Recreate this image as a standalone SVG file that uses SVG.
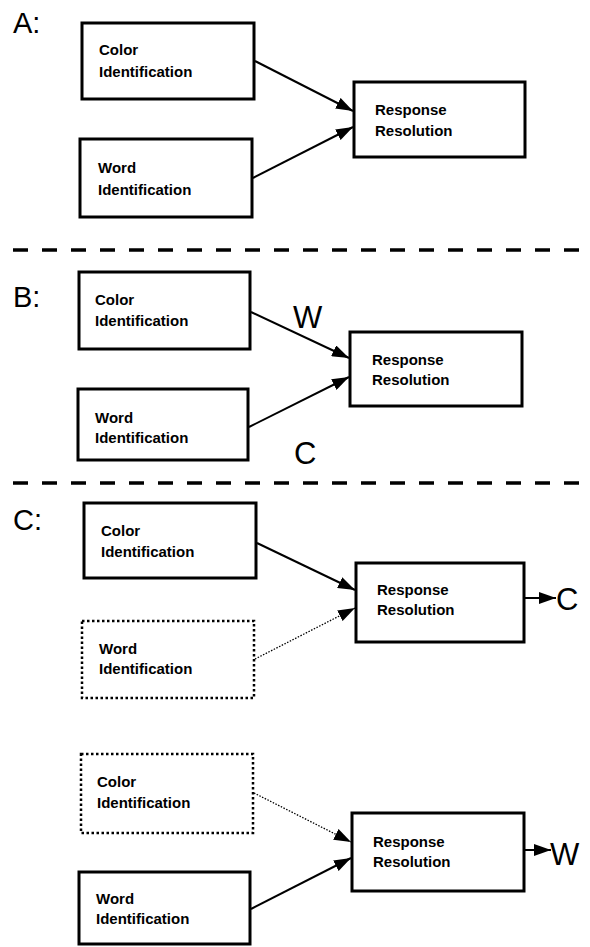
<svg xmlns="http://www.w3.org/2000/svg" width="590" height="947" viewBox="0 0 590 947">
<style>
.box{fill:#fff;stroke:#000;stroke-width:3}
.dot{fill:#fff;stroke:#000;stroke-width:2.5;stroke-dasharray:2.5 2.5}
.t{font-family:"Liberation Sans",Arial,sans-serif;font-weight:bold;font-size:15px;fill:#000}
.lbl{font-family:"Liberation Sans",Arial,sans-serif;font-size:29px;fill:#000}
.big{font-family:"Liberation Sans",Arial,sans-serif;font-size:31px;fill:#000}
.c{stroke:#000;stroke-width:2;fill:none}
.cd{stroke:#000;stroke-width:1.3;fill:none;stroke-dasharray:1.5 1.5}
.sep{stroke:#000;stroke-width:3.5;stroke-dasharray:15 14}
</style>
<defs>
<marker id="ah" markerUnits="userSpaceOnUse" markerWidth="18" markerHeight="12" refX="17" refY="6" orient="auto">
<path d="M0,0 L17,6 L0,12 z" fill="#000"/>
</marker>
</defs>

<line class="sep" x1="13" y1="250" x2="590" y2="250"/>
<line class="sep" x1="13" y1="483" x2="590" y2="483"/>

<text class="lbl" x="13" y="33">A:</text>
<text class="lbl" x="13" y="307">B:</text>
<text class="lbl" x="13" y="530">C:</text>

<g id="A-color"><rect class="box" x="82" y="23" width="172" height="76"/><text class="t" x="99" y="55">Color</text><text class="t" x="99" y="77">Identification</text></g>
<g id="A-word"><rect class="box" x="80" y="139" width="172" height="78"/><text class="t" x="98" y="173">Word</text><text class="t" x="98" y="195">Identification</text></g>
<g id="A-resp"><rect class="box" x="354" y="82" width="171" height="75"/><text class="t" x="375" y="115">Response</text><text class="t" x="375" y="136">Resolution</text></g>

<g id="B-color"><rect class="box" x="79" y="272" width="171" height="77"/><text class="t" x="95" y="305">Color</text><text class="t" x="95" y="326">Identification</text></g>
<g id="B-word"><rect class="box" x="78" y="389" width="170" height="71"/><text class="t" x="95" y="423">Word</text><text class="t" x="95" y="443">Identification</text></g>
<g id="B-resp"><rect class="box" x="350" y="332" width="172" height="74"/><text class="t" x="372" y="365">Response</text><text class="t" x="372" y="385">Resolution</text></g>
<text class="big" x="293" y="328">W</text>
<text class="big" x="294" y="464">C</text>

<g id="C1-color"><rect class="box" x="84" y="503" width="172" height="75"/><text class="t" x="101" y="536">Color</text><text class="t" x="101" y="557">Identification</text></g>
<g id="C1-word"><rect class="dot" x="82" y="621" width="172" height="77"/><text class="t" x="99" y="654">Word</text><text class="t" x="99" y="674">Identification</text></g>
<g id="C1-resp"><rect class="box" x="356" y="563" width="168" height="79"/><text class="t" x="377" y="595">Response</text><text class="t" x="377" y="615">Resolution</text></g>
<text class="big" x="556" y="610">C</text>

<g id="C2-color"><rect class="dot" x="81" y="754" width="172" height="79"/><text class="t" x="97" y="787">Color</text><text class="t" x="97" y="808">Identification</text></g>
<g id="C2-word"><rect class="box" x="79" y="872" width="171" height="72"/><text class="t" x="96" y="904">Word</text><text class="t" x="96" y="924">Identification</text></g>
<g id="C2-resp"><rect class="box" x="352" y="813" width="172" height="78"/><text class="t" x="373" y="847">Response</text><text class="t" x="373" y="867">Resolution</text></g>
<text class="big" x="550" y="865">W</text>

<g id="connectors">
<line class="c" x1="255" y1="61" x2="353" y2="111" marker-end="url(#ah)"/>
<line class="c" x1="253" y1="178" x2="353" y2="127" marker-end="url(#ah)"/>
<line class="c" x1="251" y1="312" x2="349" y2="358" marker-end="url(#ah)"/>
<line class="c" x1="249" y1="427" x2="349" y2="377" marker-end="url(#ah)"/>
<line class="c" x1="257" y1="543" x2="355" y2="590" marker-end="url(#ah)"/>
<line class="cd" x1="255" y1="659" x2="355" y2="608" marker-end="url(#ah)"/>
<line class="c" x1="525" y1="598" x2="556" y2="598" marker-end="url(#ah)"/>
<line class="cd" x1="254" y1="793" x2="351" y2="842" marker-end="url(#ah)"/>
<line class="c" x1="251" y1="909" x2="351" y2="858" marker-end="url(#ah)"/>
<line class="c" x1="525" y1="850" x2="551" y2="850" marker-end="url(#ah)"/>
</g>
</svg>
